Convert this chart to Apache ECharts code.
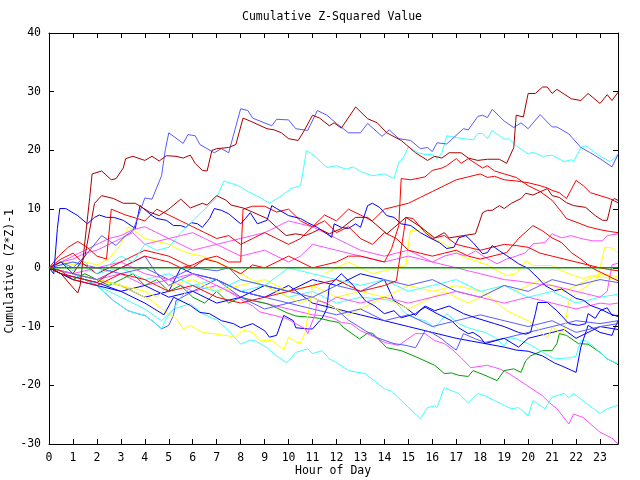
<!DOCTYPE html>
<html><head><meta charset="utf-8">
<script src="https://cdn.jsdelivr.net/npm/echarts@6/dist/echarts.min.js"></script>
<style>html,body{margin:0;padding:0;background:#fff}#c{width:640px;height:480px}</style>
</head><body><div id="c"></div>
<script>
// ---- axis settings / labels ----
const titleText = 'Cumulative Z-Squared Value';
const xName = 'Hour of Day';
const yName = 'Cumulative (Z*Z)-1';
const xMin = 0, xMax = 23.75, yMin = -30, yMax = 40;
const zeroLine = 0;

// ---- series values: [hour, cumulative value] ----
const DR1 = [[0,0],[0.5,-1],[1.2,-4.3],[1.3,-3],[1.7,12],[1.8,16],[2.2,16.5],[2.6,15],[2.8,15.2],[3.1,17],[3.2,18.6],[3.5,19],[4,18.3],[4.3,19],[4.6,18.2],[4.9,19.1],[5.3,19],[5.6,18.7],[5.9,19.2],[6.1,17.8],[6.4,16.6],[6.6,16.5],[6.8,20],[7.0,20.3],[7.5,20.5],[7.8,21],[8.1,25.5],[8.4,25],[9.1,23.7],[9.4,23.5],[9.7,23],[10,22],[10.4,21.7],[10.6,23],[11,26],[11.3,25.5],[11.7,24.2],[11.9,24.7],[12.2,23.8],[12.8,27.4],[13.3,25.4],[13.7,24.7],[14.1,23],[14.7,21.7],[15.3,19.6],[15.8,18.3],[16.1,19],[16.4,18.7],[16.7,19.6],[17.2,19.6],[17.5,18.7],[17.9,18.3],[18.3,18.5],[18.8,18.5],[19.1,17.8],[19.4,20.5],[19.5,26],[19.8,25.7],[20,29.7],[20.3,29.7],[20.6,30.8],[20.8,30.8],[21,29.7],[21.2,30.4],[21.8,28.8],[22.2,28.5],[22.5,29.7],[23,28],[23.3,29.5],[23.5,28.5],[23.75,29.9]];
const DR2 = [[0,0],[0.5,1],[1,-1],[1.5,2],[1.9,11],[2.2,12.3],[2.7,11.8],[3.1,11],[3.6,11],[4.2,9.5],[4.6,8.9],[5,10],[5.5,11.7],[5.9,10.2],[6.4,11],[6.6,10.7],[7.0,12.3],[7.4,11.5],[7.6,10.7],[8.1,10.2],[8.5,9.5],[9.1,8.4],[9.5,6.9],[9.9,5.5],[10.3,5.8],[10.7,5.5],[11,6],[11.3,6.6],[11.7,5.8],[12.2,6.7],[12.8,8.6],[13.3,8.6],[14.1,5.8],[14.9,8.6],[15.5,7],[16.1,5.1],[16.5,6],[16.7,5.1],[17.3,5.5],[17.8,5.8],[18.1,9.4],[18.3,9.8],[18.5,9.8],[18.8,10.6],[19,10.1],[19.3,11],[19.7,11.8],[19.9,12.7],[20.2,12.4],[20.8,13.5],[21,12.3],[21.3,12],[21.6,11.1],[21.9,10.6],[22.4,10.3],[22.8,8.9],[23.1,8.1],[23.3,8.1],[23.5,11.5],[23.6,11.8],[23.75,11.5]];
const R1 = [[0,0],[0.5,1.5],[1,2.5],[1.5,0.5],[2,-1],[2.5,0],[3,1],[3.5,2],[4,3],[4.5,2.5],[5,2],[5.5,1],[6,0],[6.5,1.5],[7,1],[7.5,0],[8,-1],[8.5,0.5],[9,0],[9.5,1],[10,2],[10.5,1],[11,0],[11.5,0.5],[12,1],[12.5,2],[13,2],[13.5,1.5],[14,1],[14.3,3.3],[14.6,7.2],[14.7,15.2],[15.1,15],[15.7,15.5],[16,16.6],[16.4,17],[16.6,17.4],[17,18.6],[17.2,17.8],[17.5,18.6],[17.8,17.8],[18.1,17],[18.3,17.4],[18.6,16.5],[19,16],[19.5,15.4],[20,14],[20.5,13],[21,11.5],[21.3,10],[21.6,8.4],[22,7.8],[22.5,7],[23,6.5],[23.4,6.2],[23.75,6]];
const R2 = [[0,0],[0.4,2],[0.8,3.5],[1.2,4.5],[1.6,3.5],[2,2],[2.4,1.5],[2.6,10],[3.2,9],[3.6,8.5],[4,8],[4.5,10],[5,9],[5.5,8],[6,7],[6.5,6],[7,5],[7.5,5.5],[8,4],[8.5,5],[9,6],[9.5,5],[10,4],[10.5,5],[11,7],[11.5,9],[12,8],[12.5,10],[13,9],[13.5,8],[14,10],[14.5,10.5],[15,11],[15.5,12],[16,13],[16.5,14],[17,15],[17.5,15.5],[18,16],[18.3,15.4],[18.6,15.6],[19,15],[19.5,14.8],[20,14.5],[20.5,14],[20.8,13.6],[21,13.2],[21.3,12.8],[21.6,11.8],[22,14.9],[22.3,14],[22.6,12.8],[23,12.3],[23.4,11.8],[23.75,11.1]];
const R3 = [[0,0],[0.5,-1],[1,-1.5],[1.5,-2],[2,-2.5],[2.5,-1],[3,0],[3.5,1],[4,2],[4.5,1.5],[5,1],[5.5,0],[6,0.5],[6.5,1.5],[7,2],[7.5,1],[8,1],[8.1,10],[8.5,10.5],[9,10.5],[9.5,9.5],[10,10],[10.5,8],[11,7],[11.5,8],[12,6],[12.5,7],[13,5],[13.5,4],[14,6],[14.5,5],[15,3],[15.5,2.5],[16,2],[16.5,2.5],[17,3],[17.5,2],[18,1.5],[18.5,2],[19.1,2.6],[19.6,5],[20.2,7.2],[20.6,6.3],[21,5.1],[21.4,4.3],[21.8,2.6],[22.2,1.5],[22.7,-0.1],[22.9,-0.5],[23.3,-1.3],[23.75,-2.2]];
const R4 = [[0,0],[0.5,-0.5],[1,-2],[1.5,-2.5],[2,-3],[2.5,-2],[3,-1],[3.5,-1.5],[4,-2],[4.5,-3],[5,-4],[5.5,-3.5],[6,-3],[6.5,-4],[7,-5],[7.5,-5.5],[8,-6],[8.5,-5.5],[9,-5],[9.5,-4.5],[10,-4],[10.5,-3.5],[11,-3],[11.5,-2.5],[12,-2],[12.5,-3],[13,-4],[13.5,-3.5],[14,-3],[14.5,-2.2],[14.9,8.6],[15.2,8.4],[15.7,6],[16,5],[16.5,5.5],[17,4],[17.5,3.5],[18,3],[18.5,3.5],[19,4],[19.5,3.8],[20,3.5],[20.5,2.5],[21,2],[21.5,1.5],[22,1],[22.5,0.5],[23,0],[23.4,-0.3],[23.75,-0.5]];
const LB1 = [[0,0],[0.5,1],[1,0],[1.5,2],[2.2,5.5],[2.8,3.8],[3.2,5.5],[3.5,6.3],[4.0,11.9],[4.3,11.7],[4.7,15.7],[4.85,20],[5.0,23],[5.6,21.2],[5.8,22.7],[6.1,22.5],[6.3,21],[6.9,19.6],[7.2,20.3],[7.5,19.6],[8.0,27.1],[8.3,26.8],[8.5,25.5],[9.3,24.2],[9.5,25.3],[10.0,25.2],[10.3,23.7],[10.8,23.4],[11.2,26.8],[11.6,26],[12,24.6],[12.5,23],[13,23],[13.3,24.6],[13.9,22.4],[14.2,23.5],[14.6,22],[15.1,21.7],[15.5,20.3],[15.8,20.5],[16,19.8],[16.2,21.3],[16.6,21.1],[17.3,23.7],[17.5,23.5],[17.9,25.8],[18.1,26],[18.3,25.6],[18.5,27],[19.0,25],[19.4,23.9],[19.7,24.7],[20,23.7],[20.5,26.1],[21,24],[21.2,24],[21.7,22.8],[22.2,20.5],[22.6,19.6],[23,18.6],[23.5,17.2],[23.75,19.3]];
const LB2 = [[0,0],[0.5,-0.5],[1,-1],[1.5,-2],[2,-3],[2.7,-5.6],[3.3,-7.3],[3.7,-7.8],[4,-8.1],[4.4,-9.3],[4.7,-10.4],[5,-9.8],[5.2,-8],[5.3,-5.6],[6,-4],[7,-2],[8,-5],[9,-7],[10,-6],[11,-5],[11.9,-6.7],[12.5,-8.9],[13.2,-10.7],[13.7,-11.9],[14.4,-12.9],[14.9,-13.2],[15.3,-13.6],[15.7,-10.7],[16,-11.1],[16.4,-12.1],[16.6,-12.8],[17,-14],[17.3,-11.2],[17.8,-12.1],[18.2,-12.7],[19,-12],[20,-11],[21,-10],[22,-9],[23,-9.5],[23.75,-9]];
const LB3 = [[0,0],[0.5,0.5],[1,1],[1.5,0.5],[2,0],[2.5,-0.5],[3,-1],[3.5,-0.5],[4,0],[4.5,-1],[5,-2],[5.5,-1],[6,0],[7,-0.5],[7.5,0],[8,-2],[9,-3],[10,-4],[11,-5],[12,-3],[13,-4],[14,-2],[15,-3],[16,-2],[17,-4],[18,-5],[19,-3],[20,-4],[21,-2],[22,-3],[23,-2],[23.75,-2.5]];
const LB4 = [[0,0],[0.5,-0.5],[1,-1],[1.5,-1.5],[2,-2],[2.5,-1],[3,0],[3.5,1],[4,2],[4.5,-1],[5,-3],[5.5,-2],[6,-1],[6.5,-1.5],[7,-2],[8,-4],[9,-5],[10,-6],[11,-7],[12,-8],[13,-7],[14,-9],[15,-8],[16,-10],[17,-9],[18,-8],[19,-9],[20,-10],[21,-9],[22,-11],[23,-10],[23.75,-9.5]];
const B1 = [[0,0],[0.2,-1],[0.35,6.7],[0.45,10.1],[0.7,10.1],[1.2,8.9],[1.6,7.5],[1.9,8.6],[2.1,9],[2.4,8.6],[2.7,8.6],[3.1,8.1],[3.6,6.7],[3.8,10.6],[4.3,8.9],[4.5,8.4],[4.9,8.1],[5.2,7.2],[5.5,7.2],[5.7,6.9],[5.95,7.7],[6.2,7.5],[6.4,6.9],[6.7,8.4],[6.9,10.1],[7.2,9.8],[7.5,9.2],[8.0,7.5],[8.2,8.4],[8.4,9.4],[8.7,7.5],[9.1,8.1],[9.3,10.6],[9.5,10.1],[10,8.9],[10.5,8.4],[10.8,7.7],[11.2,6.9],[11.6,5.8],[11.8,5.2],[11.9,7.5],[12.2,6.9],[12.5,6.7],[12.8,7.5],[13,6.9],[13.3,10.6],[13.5,11],[13.8,10.3],[14.1,8.9],[14.4,8.6],[14.7,7.5],[15.1,7.2],[15.5,6],[15.9,5.1],[16.3,4.3],[16.6,3.3],[16.9,3.5],[17.1,5.1],[17.4,5.5],[17.7,4.3],[18.1,2.4],[18.3,2.6],[18.5,3.8],[18.8,2.9],[19.1,2.1],[19.6,0.7],[20,-0.1],[20.4,-1.7],[20.7,-3],[21.1,-3.9],[21.4,-3.6],[21.7,-4.4],[22,-5.2],[22.3,-5.5],[22.6,-6.4],[23,-7],[23.4,-7.8],[23.75,-8.3]];
const B2 = [[0,0],[0.5,-1],[1,-2],[1.5,-2.5],[2,-3],[3,-4],[4,-6],[4.8,-8],[5.2,-5],[5.9,-6.4],[6.3,-7.6],[6.7,-7.8],[7.2,-9],[7.7,-9.5],[8,-10.2],[8.5,-9.5],[9,-10.7],[9.2,-11.8],[9.5,-11.5],[9.8,-8.1],[10.2,-9],[10.3,-10.2],[10.8,-10.4],[11,-10.4],[11.3,-9],[11.4,-8.6],[11.6,-6.9],[11.7,-3],[12.2,-1],[12.7,-3],[13.2,-5.6],[13.6,-6.5],[14,-7.8],[14.4,-7.3],[14.7,-8.5],[15.3,-7.8],[15.7,-6.5],[16.1,-7.3],[16.7,-6.5],[17.3,-7.8],[17.8,-8.5],[18.2,-9],[18.6,-9.5],[19,-10],[19.6,-11],[19.9,-11.3],[20.1,-11],[20.3,-7.8],[20.4,-5.9],[20.8,-5.9],[21.2,-7.3],[21.7,-9.5],[22.1,-9.8],[22.4,-9.5],[22.5,-7.8],[22.8,-8.6],[23,-7.3],[23.3,-6.8],[23.5,-8.1],[23.75,-8.1]];
const B3 = [[0,0],[0.5,-0.5],[1,-1],[1.5,-1.5],[2,-2],[3,-3],[4,-5],[5,-4],[5.5,0],[6,-1],[7,-2],[8,-4],[9,-5],[10,-3],[11,-6],[12,-7],[13,-8],[14,-9],[15,-10],[16,-11],[17,-12],[18.2,-12.9],[19,-13.5],[19.5,-14],[20,-14.2],[20.6,-15],[21.1,-16.2],[21.4,-16.7],[22,-17.8],[22.2,-13.5],[22.5,-9.8],[23,-11],[23.5,-11.5],[23.6,-10.4],[23.75,-9]];
const B4 = [[0,0],[0.5,-1],[1,-1.5],[1.5,-2],[2,-2.5],[3,-4],[4,-3],[5,-5],[6,-4],[7,-6],[8,-5],[9,-3],[10,-4],[11,-2],[12,-3],[13,-1],[14,-2],[14.4,-5.6],[14.9,-6.8],[15.3,-8.1],[15.5,-7.2],[15.7,-6.7],[16.2,-7.8],[16.8,-9],[17.1,-10.2],[17.5,-11.2],[17.7,-11],[18,-11.8],[18.2,-12.9],[19,-12],[19.6,-13.5],[20,-12],[21,-11],[21.5,-10.5],[22,-12],[22.5,-11],[23,-10],[23.75,-10.5]];
const C1 = [[0,0],[0.5,1],[1,-0.5],[1.5,1],[2,-1],[2.5,0.5],[3,2],[3.5,1],[4,4],[4.5,3],[5,3.5],[5.5,6],[6,8],[6.5,10],[7,12],[7.3,14.8],[7.9,14],[8.3,13],[8.8,12],[9.2,11],[9.6,12],[10.1,13.5],[10.5,14],[10.75,20],[11.1,19],[11.6,17.1],[12,17.4],[12.4,16.8],[12.7,17.2],[13,16.4],[13.5,15.7],[14,16],[14.4,15.2],[14.6,18],[14.8,18.8],[15,20.6],[15.4,19.6],[15.7,19.3],[16,19.3],[16.2,18.6],[16.4,19.6],[16.6,22.5],[17,22.2],[17.3,22],[17.7,21.8],[17.9,22.9],[18.1,22.9],[18.3,22],[18.5,23.4],[19,21.9],[19.2,22],[19.5,20.8],[20,19.4],[20.2,19.7],[20.6,19],[21,19.2],[21.5,18.1],[21.8,18.4],[21.9,18.1],[22.2,20.5],[22.4,20.8],[22.8,19.6],[23.1,18.8],[23.4,18.1],[23.6,18.6],[23.75,19.4]];
const C2 = [[0,0],[0.5,-0.5],[1,-1],[1.5,-2],[2,-3],[2.5,-4],[3,-5],[3.5,-6],[4,-7],[4.7,-9],[5.2,-7],[5.9,-6.1],[6.4,-7.8],[7,-8.9],[7.4,-10.3],[7.8,-12.1],[8,-13],[8.4,-12.3],[8.6,-12.4],[9.1,-13.6],[9.5,-15],[9.9,-16.1],[10,-15.9],[10.3,-14.4],[10.8,-13.8],[11,-14.6],[11.4,-14.1],[11.7,-15.5],[12,-16.1],[12.5,-17.5],[13.2,-18],[14,-20.6],[14.3,-21],[15.5,-25.7],[15.8,-23.8],[16.1,-23.5],[16.2,-23.8],[16.5,-20.4],[16.8,-20.9],[17.1,-21.4],[17.5,-23],[17.9,-21.4],[18.2,-21.8],[18.6,-22.6],[19,-23.4],[19.3,-24],[19.6,-23.8],[20,-25.2],[20.2,-22.6],[20.7,-24],[21,-22],[21.5,-21.4],[21.7,-22.1],[21.9,-21.4],[22.4,-23],[23,-24.8],[23.3,-24],[23.75,-23.4]];
const C3 = [[0,0],[0.5,0.5],[1,1],[1.5,0],[2,-1],[2.5,-0.5],[3,0],[3.5,-1],[4,-2],[4.5,-1.5],[5,-1],[5.5,-2],[6,-3],[6.5,-2.5],[7,-2],[7.5,-3],[8,-4],[8.5,-3.5],[9,-3],[9.5,-4],[10,-5],[10.5,-4.5],[11,-4],[11.5,-5],[12,-6],[12.5,-5.5],[13,-5],[13.5,-5.2],[14,-5.4],[14.4,-5.6],[14.9,-7.8],[15.3,-8.6],[15.7,-9],[16.1,-10.2],[16.6,-7.8],[17.1,-9.5],[17.5,-10.2],[17.9,-10.7],[18.2,-11],[18.6,-11.8],[19,-13.3],[19.2,-11.9],[19.5,-12.1],[20,-12.9],[20.7,-14.6],[21.1,-15.5],[21.8,-15.3],[22,-15],[22.2,-12.4],[22.4,-12.4],[22.7,-13.3],[23,-14.4],[23.3,-15.5],[23.6,-16.1],[23.75,-16.3]];
const C4 = [[0,0],[0.5,-0.5],[1,-1],[1.5,-2],[2,-3],[2.7,-5.6],[3.3,-7.3],[3.7,-7.8],[4,-8.1],[4.4,-9.3],[4.7,-10.4],[4.9,-8.6],[5.2,-7],[5.5,-5],[6,-3],[6.5,-3.5],[7,-4],[7.5,-3],[8,-2],[8.5,-2.5],[9,-3],[9.5,-1.5],[10,0],[10.5,-0.5],[11,-1],[11.5,-1.5],[12,-2],[12.5,-2.5],[13,-3],[13.5,-2.5],[14,-2],[14.5,-3],[15,-4],[15.5,-3.5],[16,-3],[16.5,-2.5],[17,-2],[17.5,-3],[18,-4],[18.5,-3.5],[19,-3],[19.5,-4],[20,-5],[20.5,-4.5],[21,-4],[21.5,-5],[22,-6],[22.5,-5.5],[23,-5],[23.75,-4.5]];
const M1 = [[0,0],[0.5,1],[1,1.5],[1.5,2.5],[2,3],[2.5,4],[3,5],[3.5,6],[4,4],[4.5,4.5],[5,5],[5.5,4],[6,3],[6.5,3.5],[7,4],[7.5,3],[8,2],[8.5,2.5],[9,3],[9.5,2],[10,1],[10.5,2],[11,4],[11.5,3.5],[12,3],[12.5,2.5],[13,2],[13.5,1.5],[14,1],[14.5,1.5],[15,2],[15.5,1.5],[16,1],[16.5,2],[17,2.5],[17.4,2],[17.8,2.9],[18.2,1.8],[18.7,0.7],[19.1,1.5],[19.5,2],[19.9,2.6],[20.2,4.1],[20.7,4.3],[21,5.8],[21.4,5.1],[21.8,5.5],[22.2,5],[22.7,4.6],[23.1,4.6],[23.3,5.5],[23.75,5.8]];
const M2 = [[0,0],[0.5,1],[1,2],[1.5,3],[2,4],[2.5,5],[3,5.5],[3.5,6.5],[4,7],[4.5,6],[5,5],[5.5,5.5],[6,6],[6.5,5],[7,4],[7.5,4.5],[8,5],[8.5,5.5],[9,6],[9.5,7],[10,8],[10.5,7.5],[11,7],[11.5,6],[12,5],[12.5,4],[13,3],[13.5,2.5],[14,2],[14.5,2.5],[15,3],[15.5,2],[16,1],[16.5,0.5],[17,0],[17.5,-0.5],[18,-1],[18.5,-1.5],[19,-2],[19.5,-2.2],[20,-2.5],[20.5,-2.8],[21,-3],[21.5,-3.5],[22,-4],[22.5,-4.5],[23,-5],[23.3,-4],[23.5,0.5],[23.75,0.8]];
const M3 = [[0,0],[0.5,-0.5],[1,-1],[1.5,-0.5],[2,0],[2.5,0.5],[3,1],[3.5,0],[4,-1],[4.5,-1.5],[5,-2],[5.5,-1.5],[6,-1],[6.5,-2],[7,-3],[7.5,-4],[8.1,-5.6],[8.5,-6.5],[8.8,-7.5],[9.3,-8],[9.9,-8.6],[10.3,-9.5],[10.7,-10.4],[10.8,-11.2],[11.1,-8],[11.2,-5.6],[11.6,-6],[12,-5],[12.5,-5.5],[13,-6],[13.5,-5.5],[14,-5],[14.5,-5.5],[15,-6],[15.5,-5.5],[16,-5],[16.5,-4.5],[17,-4],[17.5,-4.5],[18,-5],[18.5,-5.5],[19,-6],[19.5,-5.5],[20,-5],[20.5,-5.5],[21,-6],[21.5,-6.5],[22,-7],[22.5,-6.5],[23,-6],[23.4,-6.2],[23.75,-6]];
const M4 = [[0,0],[0.5,-0.5],[1,-1],[1.5,-1.5],[2,-2],[2.5,-1.5],[3,-1],[3.5,-2],[4,-3],[4.5,-2.5],[5,-2],[5.5,-3],[6,-4],[6.5,-3.5],[7,-3],[7.5,-4],[8,-5],[8.5,-5.5],[9,-6],[9.5,-6.5],[10,-7],[10.5,-7.5],[11,-8],[11.5,-8.2],[11.9,-8.6],[12.2,-9.3],[12.6,-9.5],[13,-10.7],[13.6,-11.8],[14,-12.7],[14.6,-13.2],[14.9,-12.3],[15.3,-11.2],[15.7,-11.2],[16.1,-12.4],[16.5,-12.9],[16.8,-13.8],[17.2,-15.3],[17.6,-17],[18.3,-16.6],[18.8,-17.2],[19.2,-18],[20.6,-21.8],[20.9,-23],[21.2,-24],[21.7,-26.6],[21.9,-24.9],[22.3,-25.5],[23,-28],[23.5,-29],[23.75,-30]];
const Y1 = [[0,0],[0.5,-0.5],[1,-1],[1.5,-1.5],[2,-2],[2.5,-2.5],[3,-3],[3.5,-3.5],[4,-4],[4.5,-5],[5,-3],[5.5,-2.5],[6,-2],[6.5,-3],[7,-4],[7.5,-3.5],[8,-3],[8.5,-2.5],[9,-2],[9.5,-3],[10,-4],[10.5,-3.5],[11,-3],[11.5,-4],[12,-5],[12.5,-4.5],[13,-4],[13.5,-4.5],[14,-5],[14.5,-4],[15,-3],[15.5,-3.5],[16,-4],[16.5,-3.5],[17,-3],[17.5,-3.5],[18,-4],[18.6,-5.6],[19.1,-7.3],[20,-9],[20.4,-10.3],[20.8,-12],[21,-10.1],[21.3,-11],[21.5,-10.8],[21.7,-5.6],[22.1,-4],[22.5,-3],[22.9,-1.7],[23.2,3.5],[23.5,3.4],[23.75,2.6]];
const Y2 = [[0,0],[0.5,-0.5],[1,-1],[1.5,-1.5],[2,-2],[2.5,-2.5],[3,-3],[3.5,-4],[4.3,-5.6],[4.8,-7.3],[5.3,-8.6],[5.6,-10.4],[5.9,-9.8],[6.4,-11],[7,-11.3],[7.5,-11.6],[7.8,-11.9],[8.1,-10.6],[8.5,-11],[8.8,-12.4],[9.3,-12.4],[9.8,-13.9],[10,-11.8],[10.3,-12.6],[10.5,-12.8],[10.7,-10.9],[11,-3],[11.5,-1],[12,0],[12.5,1],[13,0],[13.5,-1],[14,-0.5],[14.5,0],[14.9,0.4],[15.05,5.5],[15.1,6.4],[15.4,6.4],[15.6,6.8],[15.8,5.9],[16,5.1],[16.4,4.3],[16.8,3.3],[17.3,1.8],[17.8,1.2],[18.3,0.5],[18.7,-0.5],[19.1,-1.3],[19.5,-1],[19.9,1.2],[20.2,0.4],[20.6,0.4],[21,0.4],[21.4,-0.5],[21.9,-1.3],[22.3,-1.8],[22.7,-1.3],[23.1,-1.6],[23.5,-1.8],[23.75,-2.2]];
const Y3 = [[0,0],[0.5,1],[1,0.5],[1.5,1],[2,0.5],[2.5,1.5],[3,4],[3.3,7],[3.5,6.5],[4,5],[4.5,4.5],[5,4],[5.5,3],[5.9,2.4],[6.4,2],[7,1],[7.5,0],[8,-1],[8.8,-2.7],[9.5,-4],[10,-5],[10.5,-6],[11,-5],[11.5,-6],[12,-7],[12.5,-8],[13,-7],[13.5,-6],[14,-5],[14.5,-6],[15,-7],[15.5,-6],[16,-5],[16.5,-4],[17,-5],[17.5,-6],[18,-5],[18.5,-4],[19,-3],[19.5,-4],[20,-3],[20.5,-2],[21,-3],[21.5,-4],[22,-3],[22.5,-2],[23,-1],[23.75,-1.5]];
const G1 = [[0,0],[0.5,-1],[1,-2],[1.5,-1],[2,-2],[2.5,-3],[3,-2],[3.5,-1],[4,-3],[4.5,-2],[5,-4],[5.5,-3],[6,-5],[6.5,-6],[7,-4],[7.5,-6],[8,-5],[8.5,-5.6],[9.1,-6.1],[9.5,-6.8],[9.9,-7.6],[10.3,-8.2],[10.9,-8.4],[11.3,-8.6],[11.7,-9],[12.1,-9.3],[12.3,-10.2],[12.96,-12.1],[13.3,-11.1],[13.5,-11.1],[14.1,-13.6],[14.7,-14.1],[15.4,-15.3],[16.1,-16.6],[16.5,-18],[16.8,-17.9],[17.1,-18.3],[17.5,-18.5],[17.7,-17.5],[18.2,-18.3],[18.7,-19.2],[19,-17.5],[19.4,-17.2],[19.7,-17.8],[19.9,-15.8],[20.1,-15],[20.6,-14.1],[21,-14.1],[21.2,-12.9],[21.3,-11.2],[21.6,-11.5],[22.1,-12.9],[22.5,-13],[23,-14.4],[23.3,-15.5],[23.6,-16.1],[23.75,-16.5]];

// ---- colours ----
const DARKRED = '#a80000', RED = '#ff0000', BLUE = '#0000ff', SLATE = '#5a5aff',
      CYAN = '#40ffff', MAGENTA = '#ff50ff', YELLOW = '#ffff00', GREEN = '#00a000';

const seriesList = [
  [C2, CYAN], [M4, MAGENTA], [G1, GREEN], [C3, CYAN], [B3, BLUE], [LB2, SLATE], [B4, BLUE],
  [Y2, YELLOW], [Y3, YELLOW], [Y1, YELLOW], [C4, CYAN], [LB4, SLATE], [LB3, SLATE], [B2, BLUE],
  [M3, MAGENTA], [M2, MAGENTA], [M1, MAGENTA], [R4, RED], [R3, RED], [R2, RED], [R1, RED],
  [B1, BLUE], [C1, CYAN], [LB1, SLATE], [DR2, DARKRED], [DR1, DARKRED]
];

const FONT = 'DejaVu Sans Mono';
const chart = echarts.init(document.getElementById('c'), null, {renderer: 'canvas'});

const series = seriesList.map(([d, col]) => ({
  type: 'line', data: d, showSymbol: false, symbol: 'none', animation: false,
  lineStyle: {color: col, width: 1}, itemStyle: {color: col}, silent: true,
  xAxisIndex: 0, yAxisIndex: 0
}));
series.push({
  type: 'line', data: [[xMin, zeroLine], [xMax, zeroLine]], symbol: 'none', animation: false,
  lineStyle: {color: GREEN, width: 1.5}, silent: true, z: 5
});

const tickCommon = {show: true, inside: true, length: 5, lineStyle: {color: '#000', width: 1}};
const lineCommon = {show: true, onZero: false, lineStyle: {color: '#000', width: 1}};
const labelCommon = {color: '#000', fontFamily: FONT, fontSize: 11.5};

chart.setOption({
  animation: false,
  backgroundColor: '#fff',
  grid: {left: 49, right: 22, top: 33, bottom: 36, show: false},
  xAxis: [
    {type: 'value', min: xMin, max: xMax, interval: 1, position: 'bottom',
     axisLine: lineCommon, axisTick: tickCommon, splitLine: {show: false},
     axisLabel: Object.assign({margin: 8, showMaxLabel: false}, labelCommon)},
    {type: 'value', min: xMin, max: xMax, interval: 1, position: 'top',
     axisLine: lineCommon, axisTick: tickCommon, splitLine: {show: false}, axisLabel: {show: false}}
  ],
  yAxis: [
    {type: 'value', min: yMin, max: yMax, interval: 10, position: 'left',
     axisLine: lineCommon, axisTick: tickCommon, splitLine: {show: false},
     axisLabel: Object.assign({margin: 8}, labelCommon)},
    {type: 'value', min: yMin, max: yMax, interval: 10, position: 'right',
     axisLine: lineCommon, axisTick: tickCommon, splitLine: {show: false}, axisLabel: {show: false}}
  ],
  graphic: [
    {type: 'text', left: 333 - 91, top: 11, style: {text: titleText, fill: '#000', font: '11.5px "DejaVu Sans Mono"'}},
    {type: 'text', left: 333 - 38, top: 465, style: {text: xName, fill: '#000', font: '11.5px "DejaVu Sans Mono"'}},
    {type: 'text', left: 4, top: 272 - 63, rotation: Math.PI / 2,
     style: {text: yName, fill: '#000', font: '11.5px "DejaVu Sans Mono"'}}
  ],
  series: series
});
</script>
</body></html>
